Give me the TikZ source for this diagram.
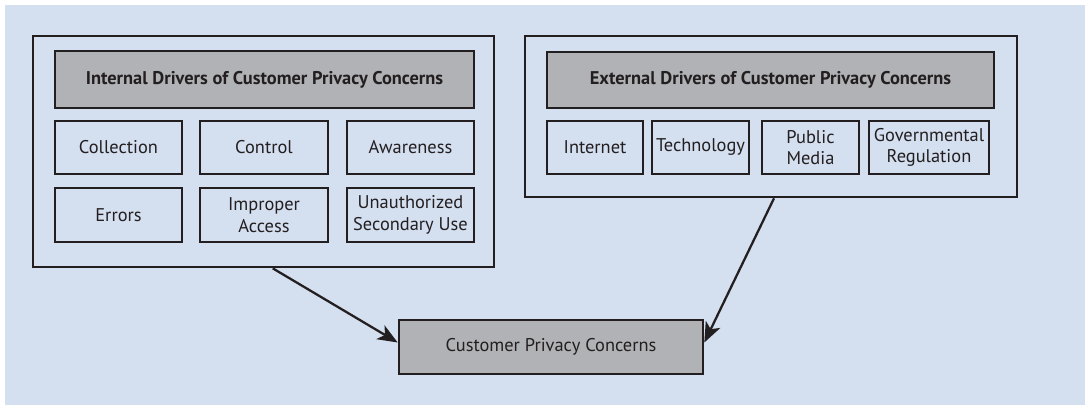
\documentclass[tikz,border=0pt]{standalone}
\usepackage{fontspec}
\setmainfont{PT Sans}
\usetikzlibrary{arrows.meta,calc}
\definecolor{bgblue}{HTML}{D4DFF0}
\definecolor{hdrgray}{HTML}{B1B2B5}
\definecolor{ink}{HTML}{231F20}
\tikzset{
  box/.style={draw=ink, line width=2pt, fill=bgblue, inner sep=0pt, align=center,
    text=ink, font=\fontsize{13.8}{16}\selectfont},
  hdr/.style={box, fill=hdrgray, font=\fontsize{13.8}{16}\selectfont\bfseries},
  outerbox/.style={draw=ink, line width=2pt, inner sep=0pt},
  wh/.style 2 args={minimum width={#1*0.75pt}, minimum height={#2*0.75pt}},
  arr/.style={draw=ink, line width=1.7pt, -{Stealth[length=15pt,width=12pt,inset=4pt]}}
}
\begin{document}
\begin{tikzpicture}[x=0.75pt,y=-0.75pt]
\useasboundingbox (0,0) rectangle (1085,405);
\fill[bgblue] (5,5) rectangle (1085,405);
% internal group
\node[outerbox, wh={461}{231}] (int) at (263.5,151.5) {};
\node[hdr, wh={419}{57}] (inth) at (264.5,79.5) {Internal Drivers of Customer Privacy Concerns};
\node[box, wh={127}{53}] (coll) at (118.5,147.5) {Collection};
\node[box, wh={128}{53}] (ctrl) at (264,147.5) {Control};
\node[box, wh={127}{53}] (aware) at (410.5,147.5) {Awareness};
\node[box, wh={127}{54}] (err) at (118.5,215) {Errors};
\node[box, wh={128}{54}] (impr) at (264,215) {Improper\\Access};
\node[box, wh={127}{54}] (unauth) at (410.5,215) {Unauthorized\\Secondary Use};
% external group
\node[outerbox, wh={492}{161}] (ext) at (771,116.5) {};
\node[hdr, wh={447}{56}] (exth) at (770.5,80) {External Drivers of Customer Privacy Concerns};
\node[box, wh={96}{53}] (inet) at (595,147.5) {Internet};
\node[box, wh={97}{53}] (tech) at (700.5,147.5) {Technology};
\node[box, wh={97}{53}] (media) at (810.5,147.5) {Public\\Media};
\node[box, wh={120}{53}] (gov) at (929,147.5) {Governmental\\Regulation};
% result
\node[hdr, font=\fontsize{13.8}{16}\selectfont, wh={304}{54}] (cpc) at (551,347) {Customer Privacy Concerns};
% connectors
\draw[arr] ($(int.south west)!0.52!(int.south east)$) -- ($(cpc.north west)!0.42!(cpc.south west)$);
\draw[arr] ($(ext.south west)!0.506!(ext.south east)$) -- ($(cpc.north east)!0.42!(cpc.south east)$);
\end{tikzpicture}
\end{document}
